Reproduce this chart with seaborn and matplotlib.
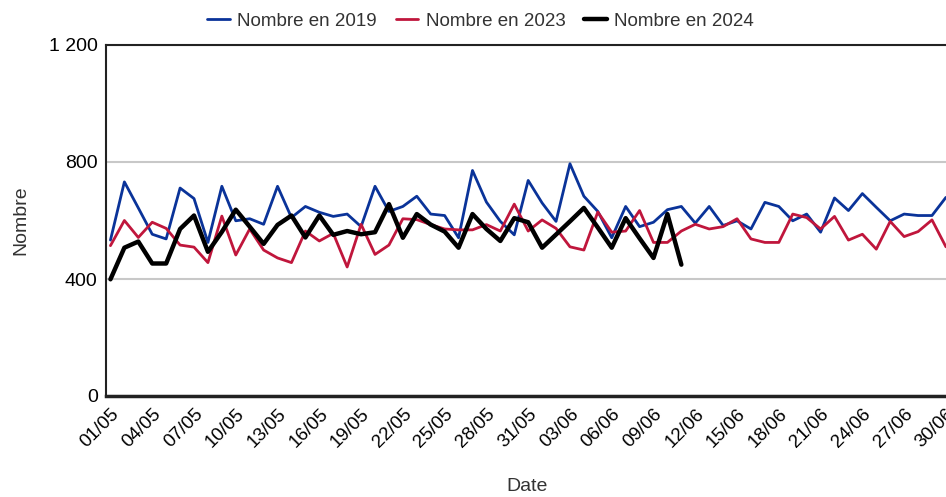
import matplotlib
matplotlib.use("Agg")
import matplotlib.pyplot as plt
import numpy as np
import pandas as pd
import seaborn as sns

# jours du 01/05 au 30/06
dates = pd.date_range("2024-05-01", "2024-06-30", freq="D").strftime("%d/%m").tolist()

nombre_2019 = [533, 732, 643, 553, 537, 711, 675, 525, 717, 599,
               606, 587, 717, 610, 648, 628, 614, 622, 579, 717,
               631, 648, 683, 622, 617, 541, 771, 663, 597, 551,
               737, 660, 597, 794, 683, 631, 541, 648, 579, 594,
               637, 648, 591, 648, 583, 599, 571, 662, 648, 599,
               622, 560, 677, 634, 692, 645, 599, 622, 617, 617,
               679]
nombre_2023 = [514, 600, 542, 594, 573, 516, 509, 456, 615, 482,
               571, 499, 472, 456, 564, 530, 556, 441, 587, 484,
               516, 606, 603, 586, 571, 568, 568, 586, 564, 656,
               564, 602, 573, 510, 499, 629, 560, 564, 634, 525,
               525, 564, 587, 571, 579, 606, 537, 525, 525, 622,
               610, 571, 614, 533, 553, 502, 597, 545, 562, 602,
               510]
nombre_2024 = [399, 507, 528, 453, 453, 571, 617, 493, 561, 637,
               579, 520, 585, 617, 542, 617, 551, 564, 553, 560,
               656, 541, 622, 586, 562, 507, 622, 571, 530, 608,
               594, 507, 552, 597, 643, 576, 507, 608, 539, 472,
               622, 449]

series = [("Nombre en 2019", nombre_2019, "#0a3399", 2.0),
          ("Nombre en 2023", nombre_2023, "#c0163c", 2.0),
          ("Nombre en 2024", nombre_2024, "#000000", 3.2)]

sns.set_style("white")
plt.rcParams["font.family"] = ["Liberation Sans", "DejaVu Sans"]

fig = plt.figure(figsize=(9.46, 4.97), dpi=100)
ax = fig.add_axes([106 / 946, 1 - 396 / 497, 842 / 946, 351 / 497])

for name, vals, col, lw in series:
    df = pd.DataFrame({"jour": np.arange(len(vals)), "nombre": vals})
    sns.lineplot(data=df, x="jour", y="nombre", ax=ax, color=col, linewidth=lw, label=name)

ax.set_xlim(-0.32, 60.15)
ax.set_ylim(0, 1200)
ax.set_yticks([0, 400, 800, 1200])
ax.set_yticklabels(["0", "400", "800", "1 200"], fontsize=14, color="black")
ticks = np.arange(0, len(dates), 3)
ax.set_xticks(ticks)
ax.set_xticklabels([dates[i] for i in ticks], rotation=45, ha="right",
                   rotation_mode="anchor", fontsize=13.5, color="black")
ax.tick_params(axis="x", direction="inout", length=8, width=1.2, pad=3)
ax.tick_params(axis="y", direction="out", length=4, width=1.2, pad=2)

ax.yaxis.grid(True, color="#c8c8c8", linewidth=1.5)
ax.set_axisbelow(True)
for s in ["left", "bottom", "top"]:
    ax.spines[s].set_color("#222222")
    ax.spines[s].set_linewidth(1.5)
ax.spines["bottom"].set_linewidth(2.5)
ax.spines["right"].set_visible(False)

ax.set_xlabel("Date", fontsize=14, color="#333333", labelpad=19)
ax.set_ylabel("Nombre", fontsize=14, color="#333333", labelpad=14)

leg = ax.legend(loc="upper center", bbox_to_anchor=(0.445, 1.14), ncol=3,
                frameon=False, fontsize=13.5, handlelength=1.2, columnspacing=1.0,
                handletextpad=0.4)
for t in leg.get_texts():
    t.set_color("#333333")

fig.savefig("out.png", dpi=100)
